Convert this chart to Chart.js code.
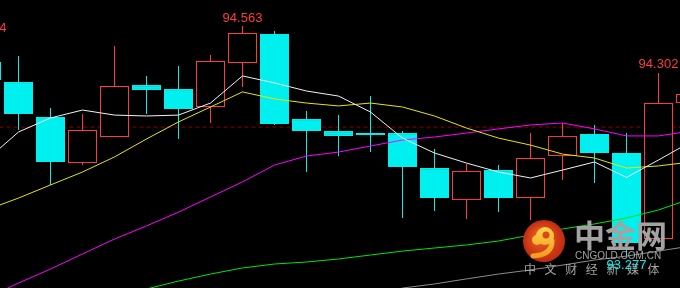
<!DOCTYPE html>
<html>
<head>
<meta charset="utf-8">
<script src="https://cdn.jsdelivr.net/npm/chart.js@4.4.1/dist/chart.umd.min.js"></script>
<style>
  html, body { margin: 0; padding: 0; background: #000; overflow: hidden; }
  canvas { display: block; }
</style>
</head>
<body>
<canvas id="kline" width="680" height="288"></canvas>
<script>
// candles, oldest first (first and last are cut by the window edge)
const opens  = [94.363, 94.251, 94.056, 93.800, 93.945, 94.234, 94.212, 94.112, 94.357, 94.518, 94.045, 93.978,
                93.967, 93.967, 93.772, 93.594, 93.761, 93.605, 93.839, 93.962, 93.856, 93.377, 94.134];
const highs  = [94.504, 94.396, 94.106, 94.073, 94.452, 94.285, 94.340, 94.402, 94.563, 94.535, 94.090, 94.068,
                94.173, 93.978, 93.878, 93.795, 93.789, 93.967, 94.023, 94.012, 93.967, 94.302, 94.200];
const lows   = [94.200, 93.984, 93.678, 93.789, 93.945, 94.073, 93.934, 94.023, 94.223, 94.012, 93.750, 93.839,
                93.862, 93.494, 93.533, 93.489, 93.528, 93.483, 93.706, 93.689, 93.277, 93.377, 94.100];
const closes = [94.262, 94.073, 93.806, 93.984, 94.229, 94.207, 94.101, 94.368, 94.524, 94.017, 93.978, 93.951,
                93.956, 93.778, 93.605, 93.756, 93.605, 93.828, 93.951, 93.856, 93.355, 94.134, 94.184];

// moving averages
const maWhite   = [93.817, 93.973, 94.051, 94.095, 94.067, 94.062, 94.067, 94.134, 94.285, 94.246, 94.201, 94.173,
                   94.084, 93.939, 93.856, 93.800, 93.750, 93.717, 93.761, 93.806, 93.720, 93.817, 93.917];
const maYellow  = [93.539, 93.605, 93.678, 93.750, 93.834, 93.934, 94.029, 94.112, 94.196, 94.157, 94.134, 94.118,
                   94.134, 94.112, 94.062, 93.995, 93.939, 93.900, 93.850, 93.828, 93.772, 93.784, 93.806];
const maMagenta = [93.049, 93.132, 93.210, 93.294, 93.377, 93.450, 93.527, 93.611, 93.695, 93.789, 93.839, 93.861,
                   93.895, 93.928, 93.945, 93.967, 93.990, 94.012, 94.023, 93.990, 93.951, 93.951, 93.978];
const maGreen   = [92.843, 92.898, 92.954, 92.982, 93.049, 93.099, 93.143, 93.182, 93.216, 93.238, 93.249, 93.266,
                   93.288, 93.310, 93.327, 93.344, 93.366, 93.399, 93.433, 93.461, 93.494, 93.539, 93.600];
const maGray    = [92.731, 92.759, 92.787, 92.815, 92.843, 92.871, 92.893, 92.921, 92.949, 92.976, 93.004, 93.027,
                   93.054, 93.104, 93.127, 93.155, 93.182, 93.205, 93.232, 93.260, 93.282, 93.310, 93.338];

const refLevel = 94.00;
const markHigh = [0, 8, 21];
const markLow = [20];

const UP = '#ff3c3c', DOWN = '#00f0f0';
const isUp = opens.map((o, i) => closes[i] >= o);

function pts(arr) { return arr.map((v, i) => ({x: i, y: v})); }

function maLine(arr, color) {
  return { type: 'line', data: pts(arr), borderColor: color, borderWidth: 1,
           pointRadius: 0, tension: 0, order: 0 };
}

const marks = {
  id: 'marks',
  afterDatasetsDraw(chart) {
    const {ctx, scales: {x, y}} = chart;
    ctx.save();

    // watermark
    const cx = 544, cy = 241, r = 21;
    const g = ctx.createRadialGradient(cx - 4, cy - 6, 2, cx, cy, r);
    g.addColorStop(0, '#ee6226');
    g.addColorStop(1, '#bf2a10');
    ctx.beginPath(); ctx.arc(cx, cy, r, 0, Math.PI * 2); ctx.fillStyle = g; ctx.fill();
    const yg = ctx.createLinearGradient(cx, cy - 14, cx, cy + 16);
    yg.addColorStop(0, '#ffd54a'); yg.addColorStop(1, '#f39a1e');
    ctx.fillStyle = yg;
    ctx.beginPath(); ctx.arc(cx + 1, cy - 5, 9, 0, Math.PI * 2); ctx.fill();
    ctx.beginPath(); ctx.arc(cx - 7, cy - 1, 5, 0, Math.PI * 2); ctx.fill();
    ctx.strokeStyle = yg; ctx.lineWidth = 5; ctx.lineCap = 'round';
    ctx.beginPath(); ctx.moveTo(cx + 8, cy); ctx.quadraticCurveTo(cx + 8, cy + 14, cx - 11, cy + 15); ctx.stroke();
    ctx.fillStyle = '#d8461a';
    ctx.beginPath(); ctx.arc(cx + 2, cy - 6, 3.5, 0, Math.PI * 2); ctx.fill();

    ctx.fillStyle = '#a3a3a3';
    ctx.textAlign = 'left'; ctx.textBaseline = 'middle';
    ctx.font = 'bold 31px "Noto Sans CJK SC", sans-serif';
    ctx.fillText('中金网', 574, 235);
    ctx.font = '10px "Liberation Sans", Arial, sans-serif';
    ctx.fillText('CNGOLD.COM.CN', 575, 256);
    ctx.font = '12px "Noto Sans CJK SC", sans-serif';
    ctx.textAlign = 'center';
    '中文财经新媒体'.split('').forEach((ch, k) => ctx.fillText(ch, 530 + k * 20.6, 269));

    // high / low labels
    ctx.font = '13px "Liberation Sans", Arial, sans-serif';
    ctx.textAlign = 'center'; ctx.textBaseline = 'middle';
    markHigh.forEach(i => {
      ctx.fillStyle = UP;
      ctx.fillText(highs[i].toFixed(3), x.getPixelForValue(i), y.getPixelForValue(highs[i]) - 8);
    });
    markLow.forEach(i => {
      ctx.fillStyle = DOWN;
      ctx.fillText(lows[i].toFixed(3), x.getPixelForValue(i), y.getPixelForValue(lows[i]) + 8);
    });
    ctx.restore();
  }
};

new Chart(document.getElementById('kline'), {
  type: 'bar',
  data: {
    datasets: [
      maLine(maWhite, '#f2f2f2'),
      maLine(maYellow, '#e6e600'),
      maLine(maMagenta, '#ff00ff'),
      maLine(maGreen, '#00e600'),
      maLine(maGray, '#8c8c8c'),
      {
        // candle bodies
        data: opens.map((o, i) => ({x: i, y: [o, closes[i]]})),
        backgroundColor: isUp.map(u => u ? '#000' : DOWN),
        borderColor: isUp.map(u => u ? UP : DOWN),
        borderWidth: 1, borderSkipped: false, inflateAmount: 0,
        barThickness: 29, grouped: false, order: 2
      },
      {
        // wicks
        data: lows.map((l, i) => ({x: i, y: [l, highs[i]]})),
        backgroundColor: isUp.map(u => u ? UP : DOWN),
        borderWidth: 0, inflateAmount: 0,
        barThickness: 1, grouped: false, order: 3
      },
      {
        type: 'line',
        data: [{x: -2, y: refLevel}, {x: 25, y: refLevel}],
        borderColor: '#8b0000', borderWidth: 1, borderDash: [4, 3],
        pointRadius: 0, order: 4
      }
    ]
  },
  options: {
    responsive: false,
    animation: false,
    devicePixelRatio: 1,
    layout: { padding: 0 },
    plugins: { legend: { display: false }, tooltip: { enabled: false } },
    scales: {
      x: { type: 'linear', min: 0.421875, max: 21.671875, offset: false, display: false },
      y: { min: 93.1044, max: 94.7077, display: false }
    }
  },
  plugins: [marks]
});
</script>
</body>
</html>
